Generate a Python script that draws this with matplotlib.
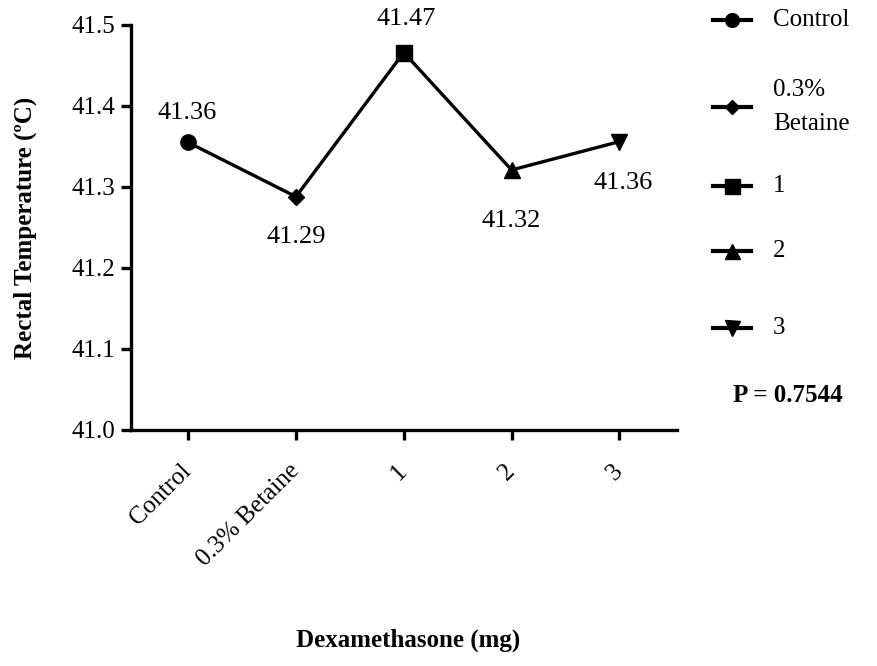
import matplotlib
matplotlib.use("Agg")
import matplotlib.pyplot as plt
from matplotlib.lines import Line2D

groups = ["Control", "0.3% Betaine", "1", "2", "3"]
legend_labels = ["Control", "0.3%\nBetaine", "1", "2", "3"]
temps = [41.355, 41.288, 41.466, 41.321, 41.356]
temp_labels = ["41.36", "41.29", "41.47", "41.32", "41.36"]
markers = ["o", "D", "s", "^", "v"]
marker_sizes = [11, 8, 12, 12, 12]
# label offsets (points) for the value annotations
label_offsets = [(-1, 21), (0, -29), (2, 24), (0, -37), (3, -30)]

plt.rcParams["font.family"] = ["Liberation Serif", "DejaVu Serif"]

fig = plt.figure(figsize=(8.77, 6.66), dpi=100)
ax = fig.add_axes([0.1494, 0.3544, 0.7714 - 0.1494, 0.9625 - 0.3544])

x = list(range(len(groups)))
ax.plot(x, temps, color="black", linewidth=2.4, zorder=2)
for xi, yi, m, ms in zip(x, temps, markers, marker_sizes):
    ax.plot(xi, yi, marker=m, markersize=ms, color="black", zorder=3)

for xi, yi, lab, off in zip(x, temps, temp_labels, label_offsets):
    ax.annotate(lab, (xi, yi), xytext=off, textcoords="offset points",
                ha="center", va="center", fontsize=19)

ax.set_xlim(-0.53, 4.53)
ax.set_ylim(41.0, 41.5)
ax.set_yticks([41.0, 41.1, 41.2, 41.3, 41.4, 41.5])
ax.set_yticklabels(["41.0", "41.1", "41.2", "41.3", "41.4", "41.5"])
ax.set_xticks(x)
ax.set_xticklabels(groups, rotation=45, ha="right", va="center",
                   rotation_mode="anchor")

for s in ["top", "right"]:
    ax.spines[s].set_visible(False)
for s in ["left", "bottom"]:
    ax.spines[s].set_linewidth(2.4)
ax.tick_params(axis="both", width=2.4, length=7, labelsize=18, color="black")
ax.tick_params(axis="x", pad=20)
ax.tick_params(axis="y", pad=4)

ax.set_ylabel("Rectal Temperature (ºC)", fontsize=18, fontweight="bold")
ax.yaxis.set_label_coords(-0.172, 0.5)
fig.text(0.465, 0.039, "Dexamethasone (mg)", fontsize=18, fontweight="bold",
         ha="center", va="center")

# legend entries drawn by hand to match the uneven spacing
legend_y = [20, 107, 186, 251, 328]
H = 666.0
W = 877.0
for lab, m, ms, yp in zip(legend_labels, markers, marker_sizes, legend_y):
    yf = 1 - yp / H
    fig.add_artist(Line2D([713 / W, 751 / W], [yf, yf], color="black",
                          linewidth=3, transform=fig.transFigure))
    fig.add_artist(Line2D([732 / W], [yf], marker=m, markersize=ms * 0.9,
                          color="black", transform=fig.transFigure))
    fig.text(773 / W, yf, lab, fontsize=18, ha="left", va="center",
             linespacing=1.75)

fig.text(733 / W, 1 - 395 / H, "P = 0.7544", fontsize=18, fontweight="bold",
         ha="left", va="center")

fig.savefig("out.png", dpi=100)
